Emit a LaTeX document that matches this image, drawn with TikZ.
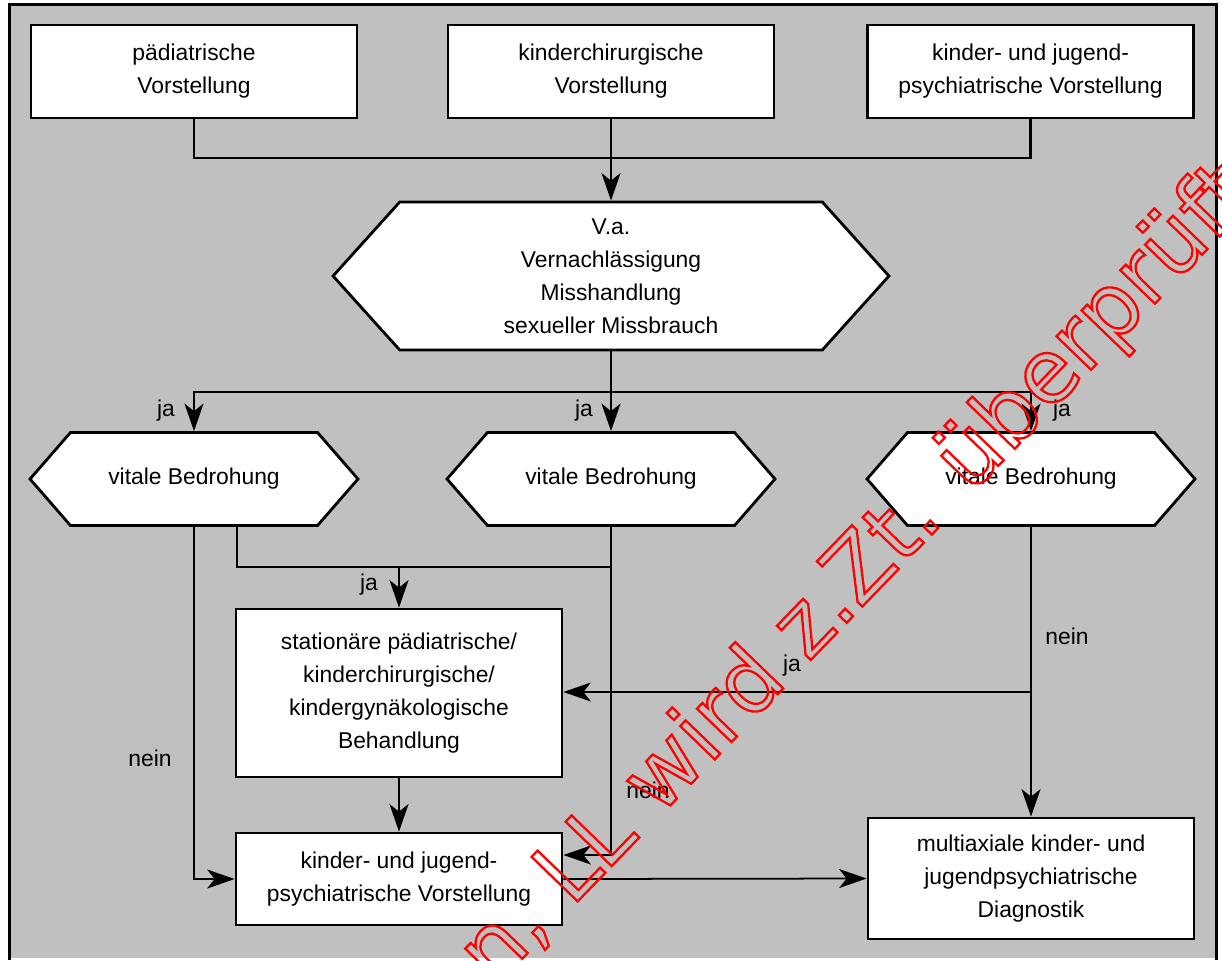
\documentclass[tikz,border=0pt]{standalone}
\usepackage{fontspec}
\setmainfont{Liberation Sans}
\newfontfamily\stempelfont{DejaVu Sans}
\usepackage{tikz}
\usetikzlibrary{arrows.meta, positioning, shapes}
\definecolor{bggray}{RGB}{192,192,192}
\newcommand{\outlined}[1]{\special{pdf:literal direct 1 Tr 1.3 w}#1\special{pdf:literal direct 0 Tr}}

\begin{document}
\begin{tikzpicture}[
    x=0.02cm, y=-0.02cm,
    font=\fontsize{13pt}{18.8pt}\selectfont,
    box/.style={rectangle, draw, line width=1.6pt, fill=white, minimum width=6.52cm, minimum height=1.86cm, align=center, inner sep=0pt},
    hexbox/.style={signal, signal to=west and east, signal pointer angle=98, draw, line width=1.6pt, fill=white, minimum width=6.56cm, minimum height=1.86cm, align=center, inner sep=0pt},
    link/.style={line width=1.3pt},
    arrow/.style={-{Stealth[length=5.5mm, width=3.8mm, inset=1.5mm]}, line width=1.3pt},
    answer/.style={inner sep=0pt},
    stempel/.style={text=red, font=\stempelfont\fontsize{50pt}{50pt}\selectfont, inner sep=0pt}
]
    \useasboundingbox (0,0) rectangle (1222,960);
    \fill[bggray] (9.5,4.5) rectangle (1216.5,958);
    \draw[line width=1.7pt] (9.5,960) -- (9.5,4.5) -- (1216.5,4.5) -- (1216.5,960);

    \node[box] (paed) at (194,71.5) {pädiatrische\\Vorstellung};
    \node[box] (chir) at (611,71.5) {kinderchirurgische\\Vorstellung};
    \node[box] (kjp) at (1030.5,71.5) {kinder- und jugend-\\psychiatrische Vorstellung};

    \node[hexbox, signal pointer angle=96, minimum width=11.12cm, minimum height=2.96cm] (verdacht) at (611,276)
        {V.a.\\Vernachlässigung\\Misshandlung\\sexueller Missbrauch};

    \node[hexbox] (vital1) at (194,479) {vitale Bedrohung};
    \node[hexbox] (vital2) at (611,479) {vitale Bedrohung};
    \node[hexbox] (vital3) at (1031,479) {vitale Bedrohung};

    \node[box, minimum height=3.36cm] (stat) at (399,693)
        {stationäre pädiatrische/\\kinderchirurgische/\\kindergynäkologische\\Behandlung};
    \node[box, minimum height=1.84cm] (kjpv) at (399,879)
        {kinder- und jugend-\\psychiatrische Vorstellung};
    \node[box, minimum height=2.42cm] (diag) at (1031,878.5)
        {multiaxiale kinder- und\\jugendpsychiatrische\\Diagnostik};

    % top row to suspicion
    \coordinate (top) at (611,158);
    \draw[link] (paed.south) |- (top) -| (kjp.south);
    \draw[arrow] (chir.south) -- (verdacht.north);

    % suspicion to the three checks
    \coordinate (split) at (611,392);
    \draw[arrow] (verdacht.south) -- (vital2.north);
    \draw[arrow] (split) -| (vital1.north);
    \draw[arrow] (split) -| (vital3.north);
    \node[answer] (ja1) at (166,411) {ja};
    \node[answer] (ja2) at (584,411) {ja};
    \node[answer] (ja3) at (1062,411) {ja};

    % ja: stationary treatment
    \coordinate (merge) at (611,567);
    \coordinate (drop) at (399,567);
    \draw[link] ([xshift=0.86cm]vital1.south) |- (merge);
    \draw[arrow] (drop) -- (stat.north);
    \node[answer] (ja4) at (369,585) {ja};
    \coordinate (side) at (1031,692);
    \draw[arrow, line width=0.9pt] (side) -- (stat.east |- side);
    \node[answer] (ja5) at (792,666) {ja};

    % nein branches
    \draw[arrow, line width=1pt] (vital1.south) |- (kjpv.west);
    \node[answer] (nein1) at (150,758) {nein};
    \draw[arrow] (vital2.south) |- ([yshift=0.48cm]kjpv.east);
    \node[answer] (nein2) at (648,790) {nein};
    \draw[arrow] (vital3.south) -- (diag.north);
    \node[answer] (nein3) at (1067,636) {nein};

    \draw[arrow] (stat.south) -- (kjpv.north);
    \draw[arrow, line width=1pt] (kjpv.east) -- (diag.west);

    % red stamp over everything
    \begin{scope}
        \clip (0,0) rectangle (1222,960);
        \node[stempel, rotate=46, anchor=base west] (stamp) at (494,988) {\outlined{n, LL wird z.Zt. überprüft}};
    \end{scope}
\end{tikzpicture}
\end{document}
